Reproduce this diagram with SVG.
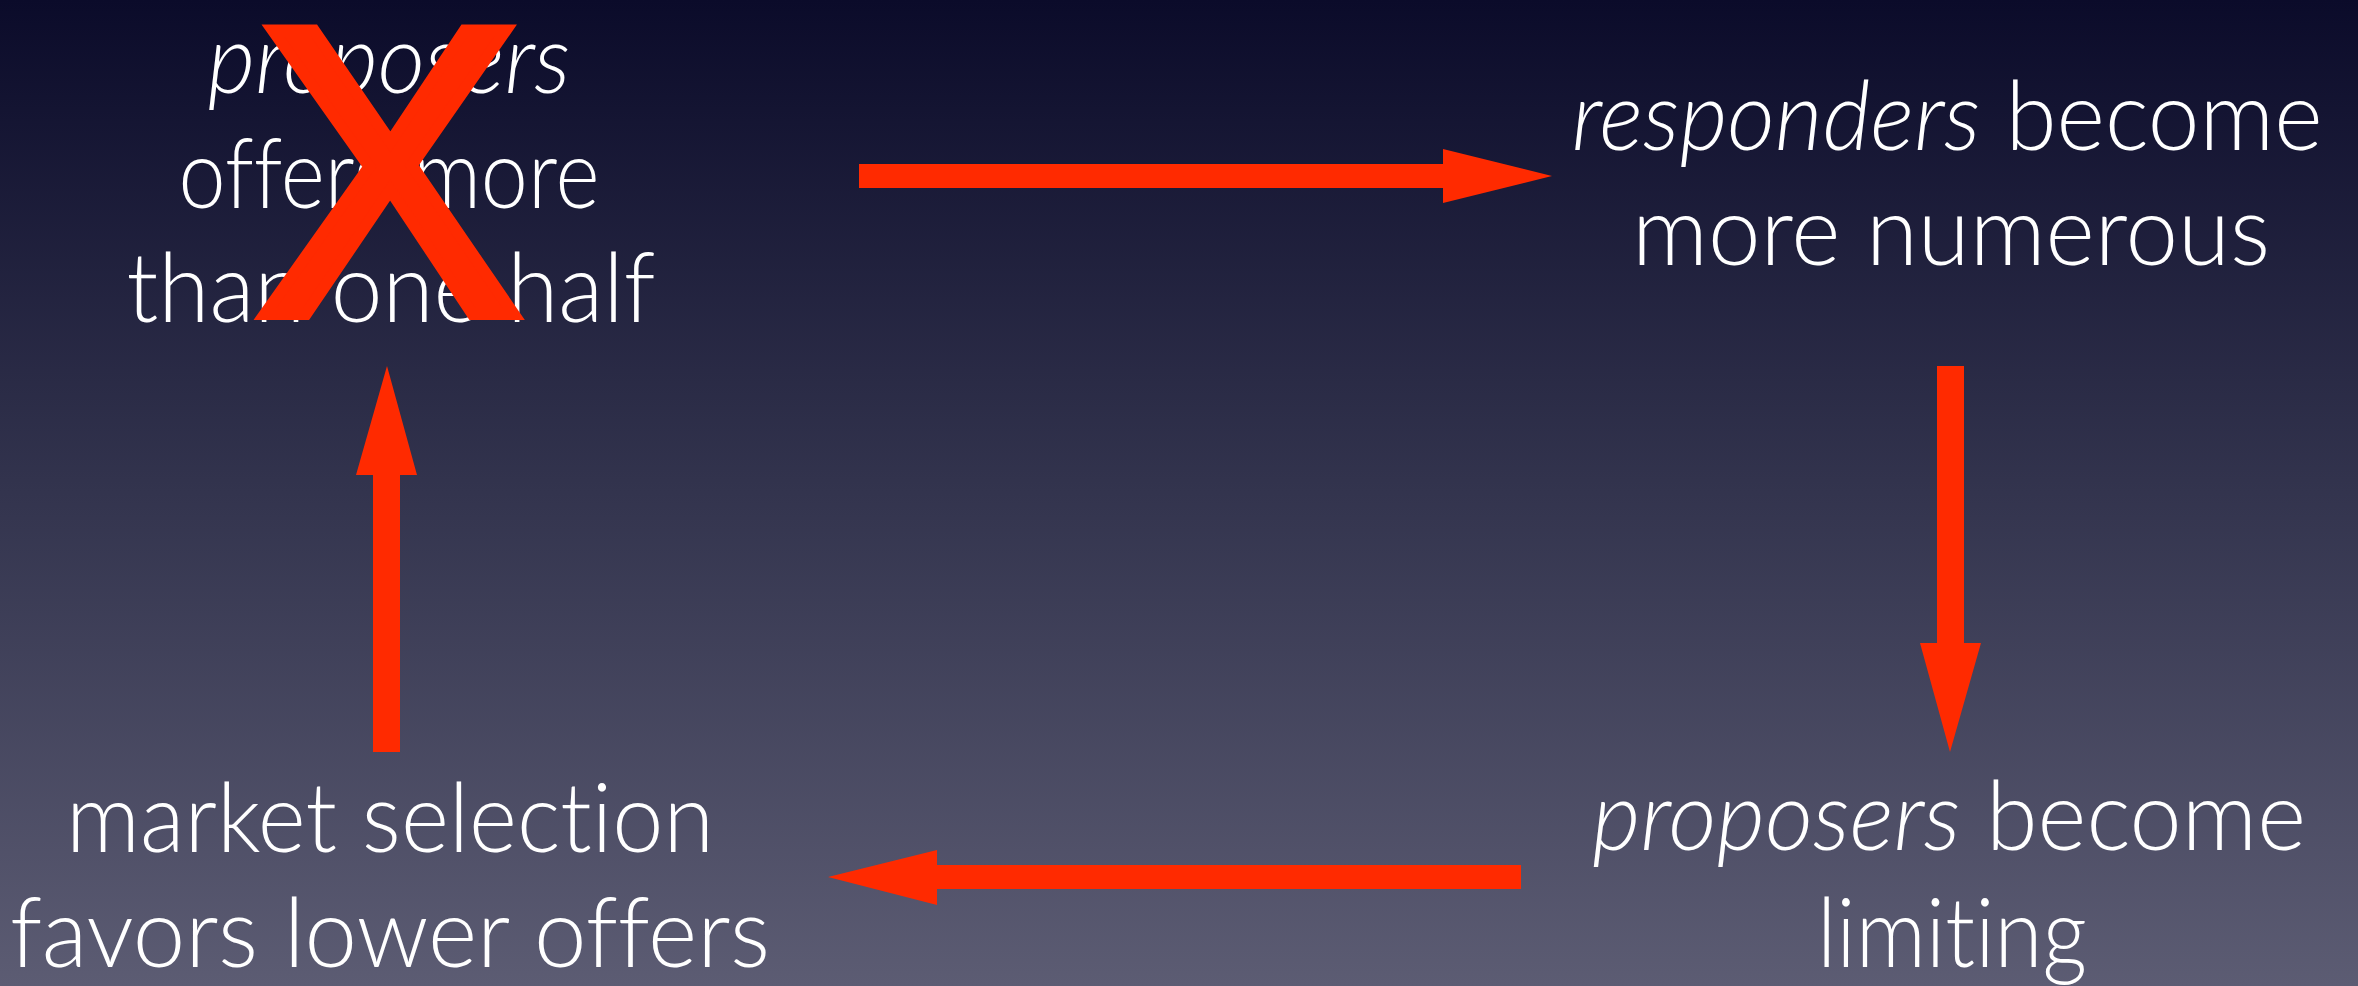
<svg xmlns="http://www.w3.org/2000/svg" width="2358" height="986" viewBox="0 0 2358 986">
  <defs>
    <linearGradient id="bg" x1="0" y1="0" x2="0" y2="1">
      <stop offset="0" stop-color="#0b0b2a"/>
      <stop offset="0.5" stop-color="#33344e"/>
      <stop offset="1" stop-color="#5c5c73"/>
    </linearGradient>
    <style>
      .label { font-family: "Lato", "Open Sans", "Liberation Sans", sans-serif; font-weight: 300; font-size: 96px; fill: #ffffff; text-anchor: middle; font-variant-ligatures: none; font-feature-settings: "liga" 0; }
      .em { font-style: italic; }
      .arrow { fill: #ff2a00; }
      .cross { font-family: "Liberation Sans", Arial, sans-serif; font-weight: normal; font-size: 412px; fill: #ff2a00; stroke: #ff2a00; stroke-width: 12; stroke-linejoin: miter; text-anchor: middle; }
    </style>
  </defs>

  <rect x="0" y="0" width="2358" height="986" fill="url(#bg)"/>

  <!-- cycle arrows -->
  <g id="connectors">
    <polygon class="arrow" points="859,164 1443,164 1443,149 1552,176 1443,203 1443,188 859,188"/>
    <polygon class="arrow" points="1937,366 1964,366 1964,643 1981,643 1950,752 1920,643 1937,643"/>
    <polygon class="arrow" points="1521,865 937,865 937,850 828,877 937,905 937,889 1521,889"/>
    <polygon class="arrow" points="373,752 400,752 400,475 417,475 387,366 356,475 373,475"/>
  </g>

  <!-- crossed-out starting state -->
  <g id="node-offer-half">
    <text class="label" x="389" y="93" textLength="363" lengthAdjust="spacingAndGlyphs"><tspan class="em">proposers</tspan></text>
    <text class="label" x="389" y="208" textLength="421" lengthAdjust="spacingAndGlyphs">offers more</text>
    <text class="label" x="391" y="322" textLength="529" lengthAdjust="spacingAndGlyphs">than one half</text>
    <text class="cross" x="389" y="314" textLength="266" lengthAdjust="spacingAndGlyphs">X</text>
  </g>

  <g id="node-responders">
    <text class="label" x="1947" y="150" textLength="751" lengthAdjust="spacingAndGlyphs"><tspan class="em">responders</tspan> become</text>
    <text class="label" x="1951" y="265" textLength="638" lengthAdjust="spacingAndGlyphs">more numerous</text>
  </g>

  <g id="node-proposers-limiting">
    <text class="label" x="1949" y="850" textLength="714" lengthAdjust="spacingAndGlyphs"><tspan class="em">proposers</tspan> become</text>
    <text class="label" x="1952" y="967" textLength="270" lengthAdjust="spacingAndGlyphs">limiting</text>
  </g>

  <g id="node-market-selection">
    <text class="label" x="390" y="852" textLength="648" lengthAdjust="spacingAndGlyphs">market selection</text>
    <text class="label" x="390" y="967" textLength="760" lengthAdjust="spacingAndGlyphs">favors lower offers</text>
  </g>
</svg>
